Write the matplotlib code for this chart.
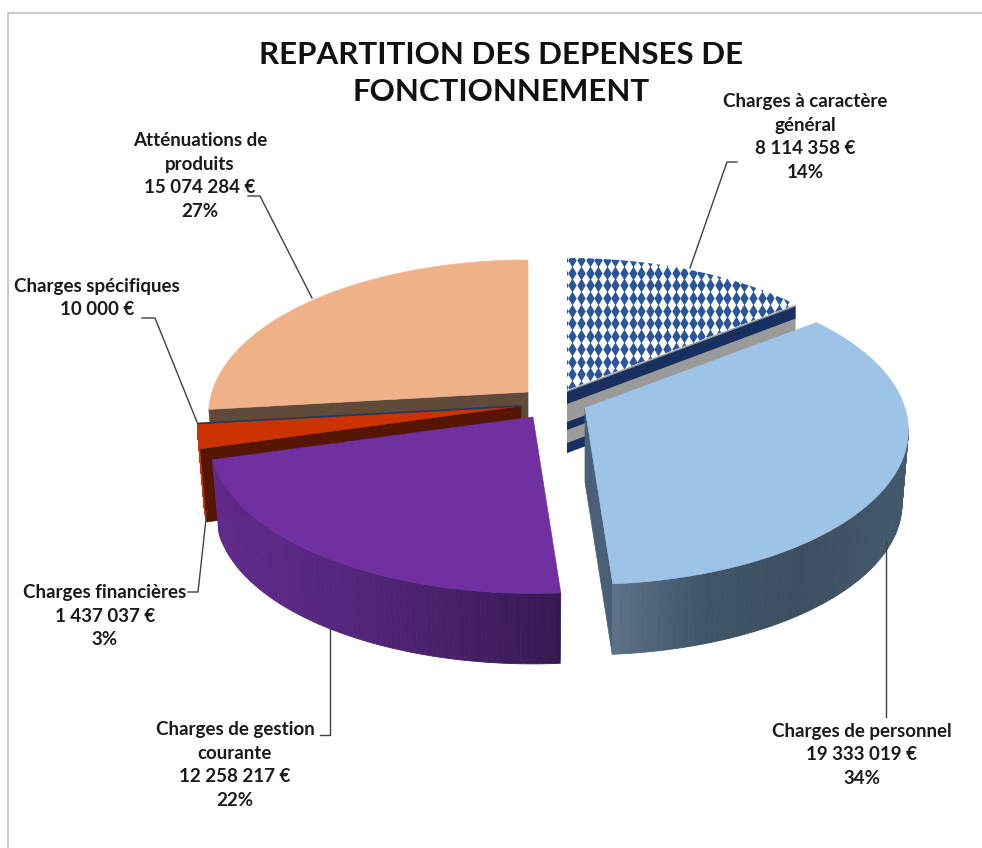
import numpy as np
import matplotlib
matplotlib.use("Agg")
import matplotlib.pyplot as plt
from matplotlib.colors import to_rgb
from matplotlib.patches import Polygon

plt.rcParams['font.family'] = ['Lato', 'DejaVu Sans']

# ---- data ----
categories = ["Charges à caractère\ngénéral", "Charges de personnel",
              "Charges de gestion\ncourante", "Charges financières",
              "Charges spécifiques", "Atténuations de\nproduits"]
values = [8114358, 19333019, 12258217, 1437037, 10000, 15074284]
value_labels = ["8 114 358 €", "19 333 019 €", "12 258 217 €",
                "1 437 037 €", "10 000 €", "15 074 284 €"]
percent_labels = ["14%", "34%", "22%", "3%", "", "27%"]
title_text = "REPARTITION DES DEPENSES DE\nFONCTIONNEMENT"

# ---- styling / layout (pixel canvas) ----
W, H = 982, 848
FLAT, PERSP, DEPTH, SHRINK = 151, 0.144, 74, 0.98
FRONT_FROM = 98  # the rim only shows below the widest point of the disc
radius = [316, 320, 320, 320, 320, 316]
apex = [(567, 390), (585, 408), (533, 417), (521, 406), (521, 406), (528, 392)]
top_col = ["#ffffff", "#9dc3e6", "#7030a0", "#cc3300", "#1f3864", "#f0b088"]
label_xy = [(805, 137), (862, 755), (235, 765), (105, 616), (97, 298), (200, 176)]
leaders = [[(690, 268), (727, 162), (737, 162)],
           [(886, 541), (886, 717)],
           [(330, 628), (330, 735), (320, 735)],
           [(207, 510), (198, 592), (188, 592)],
           [(197, 422), (155, 318), (142, 318)],
           [(312, 298), (260, 196), (248, 196)]]

fig = plt.figure(figsize=(W / 100, H / 100), dpi=100, facecolor="white")
ax = fig.add_axes([0, 0, 1, 1])
ax.set_xlim(0, W)
ax.set_ylim(H, 0)
ax.axis("off")

# frame
ax.plot([8, 8, W + 5], [H + 5, 13, 13], color="#bfbfbf", lw=1.2, zorder=0)


def project(i, ang):
    """Clockwise-from-top angle (deg) to canvas position for slice i."""
    a = np.radians(np.atleast_1d(ang))
    x, y = np.sin(a), np.cos(a)
    d = 1 + PERSP * y
    return apex[i][0] + radius[i] * x / d, apex[i][1] - FLAT * y / d


def lower(i, xs, ys):
    """Same rim points on the underside of the disc."""
    return (apex[i][0] + SHRINK * (xs - apex[i][0]),
            apex[i][1] + DEPTH + SHRINK * (ys - apex[i][1]))


def grad(stops, x):
    xs = [s[0] for s in stops]
    cs = np.array([to_rgb(s[1]) for s in stops])
    return tuple(np.interp(x, xs, cs[:, k]) for k in range(3))


def rim_side(i, a0, a1, stops, z):
    angs = np.linspace(a0, a1, 90)
    xs, ys = project(i, angs)
    bx, by = lower(i, xs, ys)
    for k in range(len(angs) - 1):
        c = grad(stops, (xs[k] + xs[k + 1]) / 2)
        ax.add_patch(Polygon([(xs[k], ys[k]), (xs[k + 1], ys[k + 1]),
                              (bx[k + 1], by[k + 1]), (bx[k], by[k])],
                             closed=True, fc=c, ec=c, lw=0.6, zorder=z))


def cut_face(i, ang, color, z):
    px, py = project(i, ang)
    bx, by = lower(i, px, py)
    ax_, ay_ = apex[i]
    ax.add_patch(Polygon([(ax_, ay_), (px[0], py[0]), (bx[0], by[0]), (ax_, ay_ + DEPTH)],
                         closed=True, fc=color, ec=color, lw=0.5, zorder=z))


def top_poly(i, a0, a1, color, z):
    xs, ys = project(i, np.linspace(a0, a1, 120))
    pts = [apex[i]] + list(zip(xs, ys))
    p = Polygon(pts, closed=True, fc=color, ec=color, lw=0.4, zorder=z)
    ax.add_patch(p)
    return p


# slice angles from the values
total = sum(values)
edges = np.concatenate([[0], np.cumsum(values)]) / total * 360

# --- charges à caractère général ---
a0, a1 = edges[0], edges[1]
px, py = project(0, a1)
ox, oy = apex[0]
ex, ey = px[0], py[0]
ax.add_patch(Polygon([(ox, oy), (ex, ey), (ex, ey + 63), (ox, oy + 63)],
                     closed=True, fc="#9a9a9a", ec="none", zorder=1))
for s0, s1 in [(2, 14), (32, 40), (53, 63)]:
    ax.add_patch(Polygon([(ox, oy + s0), (ex, ey + s0), (ex, ey + s1), (ox, oy + s1)],
                         closed=True, fc="#17305f", ec="none", zorder=1.1))
patch = top_poly(0, a0, a1, top_col[0], 1.2)
gx, gy = np.meshgrid(np.arange(ox - 3.3, ex + 10, 8.6), np.arange(oy - 130, oy + 10, 12.7))
dots = ax.scatter(gx.ravel(), gy.ravel(), marker="d", s=50,
                  color="#2a5599", linewidths=0, zorder=1.3)
dots.set_clip_path(patch)

# --- atténuations ---
cut_face(5, edges[5], "#604a3a", 2)
top_poly(5, edges[5], edges[6], top_col[5], 2.1)

# --- charges financières ---
rim_side(3, edges[3], edges[4], [(0, "#cc3300"), (W, "#cc3300")], 3)
cut_face(3, edges[3], "#551500", 3.1)
top_poly(3, edges[3], edges[4], top_col[3], 3.2)

# --- charges spécifiques (almost nothing) ---
sx_, sy_ = project(4, edges[5])
ax.plot([apex[4][0], sx_[0]], [apex[4][1], sy_[0]], color=top_col[4], lw=1.2, zorder=3.3)

# --- gestion courante ---
rim_side(2, edges[2], edges[3],
         [(200, "#63298d"), (330, "#56277f"), (450, "#472069"), (560, "#371a52")], 4)
top_poly(2, edges[2], edges[3], top_col[2], 4.2)

# --- personnel ---
cut_face(1, edges[2], "#4a6078", 5)
rim_side(1, max(edges[1], FRONT_FROM), edges[2],
         [(610, "#5e7389"), (700, "#40566a"), (800, "#3c4f60"), (910, "#44596d")], 5.1)
top_poly(1, edges[1], edges[2], top_col[1], 5.2)

# leader lines
for pts in leaders:
    xs, ys = zip(*pts)
    ax.plot(xs, ys, color="#404040", lw=1.0, zorder=6)

# labels
for name, val, pct, (lx, ly) in zip(categories, value_labels, percent_labels, label_xy):
    lines = [name, val] + ([pct] if pct else [])
    ax.text(lx, ly, "\n".join(lines), ha="center", va="center", fontsize=13.5,
            fontweight="bold", color="#1a1a1a", linespacing=1.47, zorder=7)

ax.text(501, 73.5, title_text, ha="center", va="center", fontsize=22.5, fontweight="bold",
        color="#111111", linespacing=1.43, zorder=7)

fig.savefig("out.png", dpi=100, facecolor="white")
